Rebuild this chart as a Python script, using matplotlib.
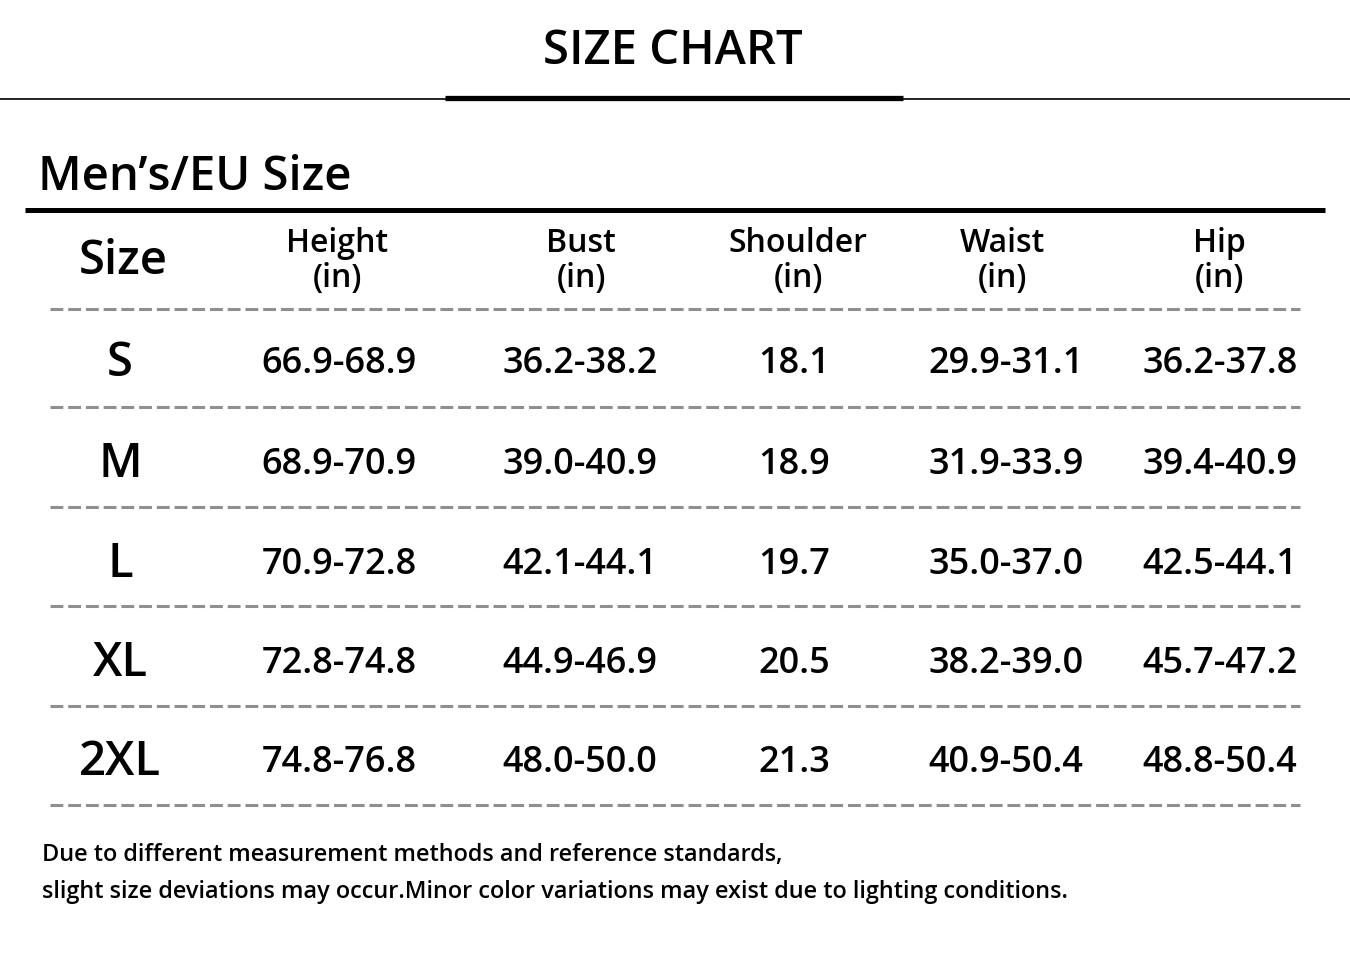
import matplotlib
matplotlib.use("Agg")
import matplotlib.pyplot as plt

# data
title = "SIZE CHART"
subtitle = "Men’s/EU Size"
columns = ["Height", "Bust", "Shoulder", "Waist", "Hip"]
unit = "(in)"
sizes = ["S", "M", "L", "XL", "2XL"]
height = ["66.9-68.9", "68.9-70.9", "70.9-72.8", "72.8-74.8", "74.8-76.8"]
bust = ["36.2-38.2", "39.0-40.9", "42.1-44.1", "44.9-46.9", "48.0-50.0"]
shoulder = ["18.1", "18.9", "19.7", "20.5", "21.3"]
waist = ["29.9-31.1", "31.9-33.9", "35.0-37.0", "38.2-39.0", "40.9-50.4"]
hip = ["36.2-37.8", "39.4-40.9", "42.5-44.1", "45.7-47.2", "48.8-50.4"]
notes = [
    "Due to different measurement methods and reference standards,",
    "slight size deviations may occur.Minor color variations may exist due to lighting conditions.",
]

plt.rcParams['font.family'] = ['Open Sans', 'DejaVu Sans']
plt.rcParams['font.weight'] = 'semibold'

W, H = 1350, 979
fig = plt.figure(figsize=(W / 100, H / 100), dpi=100)
ax = fig.add_axes([0, 0, 1, 1])
ax.set_xlim(0, W)
ax.set_ylim(H, 0)
ax.axis('off')

# title and rules
ax.text(673, 51, title, ha='center', va='center', fontsize=34, color='black')
ax.plot([0, W], [100, 100], color='black', lw=1.2)
ax.plot([445, 903], [99, 99], color='black', lw=3.8, solid_capstyle='butt')

ax.text(38, 177, subtitle, ha='left', va='center', fontsize=34)
ax.plot([25, 1325], [211, 211], color='black', lw=3.6, solid_capstyle='butt')

# header row
col_x = [337, 581, 798, 1002, 1219]
ax.text(123, 262, "Size", ha='center', va='center', fontsize=34)
for x, name in zip(col_x, columns):
    ax.text(x, 243, name, ha='center', va='center', fontsize=23)
    ax.text(x, 279, unit, ha='center', va='center', fontsize=23)

# dashed separators
sep_y = [310, 408, 508, 607, 707, 806]
ax.hlines(sep_y, 50, 1300, colors='#8f8f8f', lw=2.2, linestyles=(0, (4.2, 1.6)))

# body rows
row_y = [364, 465, 565, 664, 763]
val_x = [339, 580, 794, 1006, 1220]
table = [height, bust, shoulder, waist, hip]
for i, y in enumerate(row_y):
    ax.text(120, y, sizes[i], ha='center', va='center', fontsize=34)
    for x, col in zip(val_x, table):
        ax.text(x, y, col[i], ha='center', va='center', fontsize=26)

# footnote
ax.text(42, 855, notes[0], ha='left', va='center', fontsize=16.9)
ax.text(42, 892, notes[1], ha='left', va='center', fontsize=16.9)

fig.savefig("out.png", dpi=100, facecolor='white')
